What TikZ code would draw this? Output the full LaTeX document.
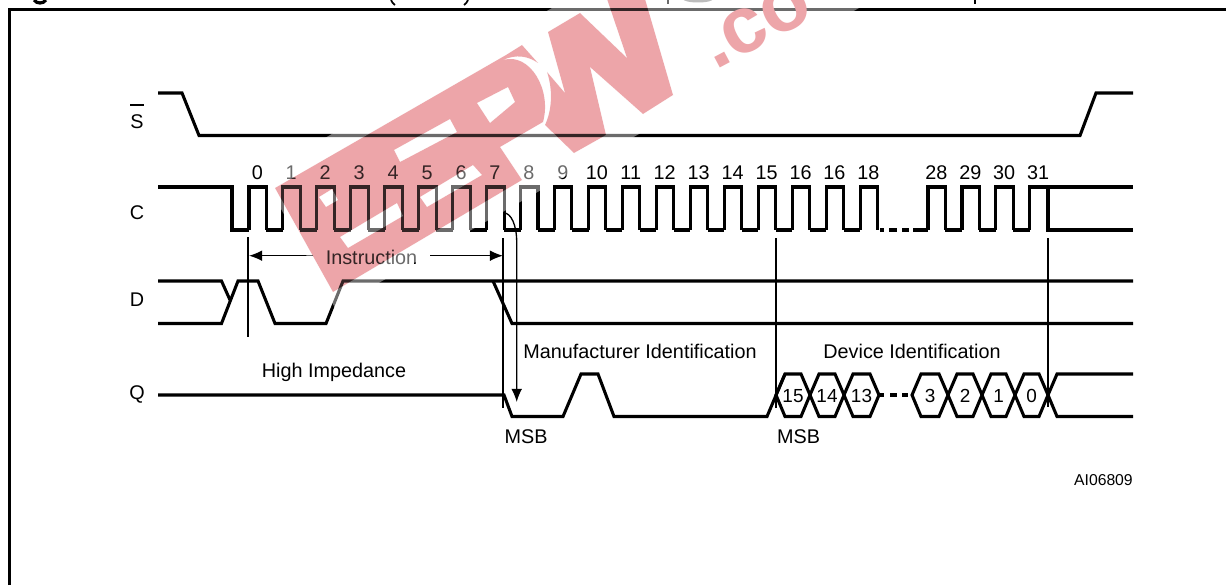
\documentclass[tikz,border=0pt]{standalone}
\usepackage{fontspec}
\setmainfont{Liberation Sans}
\usetikzlibrary{arrows.meta}
\definecolor{wmpink}{HTML}{EDA5A9}
\tikzset{
  x=0.75pt,y=-0.75pt,
  sig/.style={line width=2.3pt,line join=miter,line cap=butt},
  thinline/.style={line width=1pt},
  hair/.style={line width=.9pt},
  lab/.style={inner sep=0pt,font=\fontsize{14.85}{16}\selectfont},
  hexlab/.style={inner sep=0pt,font=\fontsize{14.2}{16}\selectfont},
  smalllab/.style={inner sep=0pt,font=\fontsize{11.8}{14}\selectfont},
  tip/.style={-{Latex[length=9.8pt,width=8pt]}},
  wmshape/.style={insert path={
    (275,188) -- (506,55) -- (522,45) -- (538,63) .. controls (528,56) and (516,54) .. (503,60)
      .. controls (530,52) and (552,90) .. (543,122) -- (500,147) -- (522,180) -- (333,292) -- cycle
    (548,32) -- (580,13) -- (627,58) -- (607,-1) -- (645,-1) -- (673,95) -- (643,114) -- (590,67) -- (606,135)
      -- (574,153) -- (545,125) .. controls (552,110) and (553,90) .. (547,72) -- (565,93) -- cycle
    (319,197) -- (332,189) -- (338,200) -- (326,207) -- cycle
    (340,237) -- (397,203) -- (403,216) -- (348,248) -- cycle
    (420,197) -- (473,165) -- (482,175) -- (427,207) -- cycle
    (394,150) -- (450,119) -- (457,132) -- (400,162) -- cycle
    (477,103) -- (508,87) -- (515,102) -- (490,123) -- cycle
  }}
}
\begin{document}
\begin{tikzpicture}
\useasboundingbox (0,0) rectangle (1226,585);
\clip (0,0) rectangle (1226,585);
\fill[white] (0,0) rectangle (1226,585);
% watermark under the drawing
\fill[wmpink,even odd rule,wmshape];
% frame and cut-off heading fragments
\draw[line width=1.9pt] (9.5,585) -- (9.5,9.5) -- (1226,9.5);
\draw[line width=2.4pt] (34,0) .. controls (37,4) and (43,4) .. (46,0);
\draw[line width=1.3pt] (391,0) .. controls (392,2) and (393,4) .. (395,5);
\draw[line width=1.3pt] (468,0) .. controls (467,2) and (466,4) .. (464,5);
\draw[line width=2.2pt] (668,0) -- (668,4);
\draw[line width=2.2pt] (975,0) -- (975,4);
\fill[black!45] (698,-1) ellipse [x radius=15,y radius=3.5];
% S
\node[lab] (S) at (137,122) {S};
\coordinate (Sbar) at (130,105); \coordinate (Sbarr) at (144,105);
\draw[hair] (Sbar) -- (Sbarr);
\draw[sig] (158,93) -- (182,93) -- (199,135.5) -- (1080,135.5) -- (1096,93) -- (1133,93);
% C
\node[lab] (C) at (137,213) {C};
\draw[sig] (158,187) -- (232,187) -- (232,230) -- (249,230);
\foreach \k/\t in {0/0,1/1,2/2,3/3,4/4,5/5,6/6,7/7,8/8,9/9,10/10,11/11,12/12,13/13,14/14,15/15,16/16,17/16,18/18,20/28,21/29,22/30,23/31}{
  \pgfmathsetmacro{\r}{249+33.95*\k}
  \pgfmathsetmacro{\f}{\r+17.4}
  \pgfmathsetmacro{\e}{\r+33.95}
  \node[lab] (clk\k) at (\r+8.3,173) {\t};
  \draw[sig,line cap=square] (\r,230) -- (\r,187) -- (\f,187) -- (\f,230);
  \ifnum\k<18 \draw[sig] (\f,230) -- (\e,230); \fi
  \ifnum\k>19 \ifnum\k<23 \draw[sig] (\f,230) -- (\e,230); \fi\fi
}
\draw[sig] (880,230) -- (884,230) (889,230) -- (897,230) (902,230) -- (909,230) (913,230) -- (928,230);
\draw[sig] (1030,187) -- (1133,187);
\draw[sig] (1048,187) -- (1048,230) -- (1133,230);
% D
\node[lab] (D) at (137,300) {D};
\draw[sig] (158,281) -- (221.5,281) -- (230,300);
\draw[sig] (158,323.5) -- (221.5,323.5) -- (238,281) -- (258,281) -- (275,323.5) -- (326,323.5) -- (343,281) -- (1133,281);
\draw[sig] (493,281) -- (512,323.5) -- (1133,323.5);
% Q
\node[lab] (Q) at (137,394) {Q};
\draw[sig] (158,395) -- (504,395) -- (512,416.5) -- (563,416.5) -- (581,374) -- (598,374) -- (614,416.5) -- (767,416.5) -- (785,374);
\foreach \a/\b/\t/\n in {776/810/15/a,810/844/14/b,844/879/13/c,912/948/3/d,948/982/2/e,982/1015/1/f,1015/1048/0/g}{
  \draw[sig] (\a,395) -- (\a+9,374) -- (\b-9,374) -- (\b,395) -- (\b-9,416.5) -- (\a+9,416.5) -- cycle;
  \node[hexlab] (hex\n) at ({(\a+\b)/2},396) {\t};
}
\draw[sig] (880,395) -- (884,395) (890,395) -- (897,395) (902,395) -- (908,395);
\draw[sig] (1133,374) -- (1057,374) -- (1048,395) -- (1057,416.5) -- (1133,416.5);
% guide lines
\coordinate (g0a) at (248,237); \coordinate (g0b) at (248,337);
\coordinate (g7a) at (503,238); \coordinate (g7b) at (503,408);
\coordinate (g15a) at (776,238); \coordinate (g15b) at (776,408);
\coordinate (g31a) at (1048,238); \coordinate (g31b) at (1048,407);
\draw[thinline] (g0a) -- (g0b);
\draw[thinline] (g7a) -- (g7b);
\draw[thinline] (g15a) -- (g15b);
\draw[thinline] (g31a) -- (g31b);
% Instruction
\node[lab] (instr) at (371.5,257) {Instruction};
\coordinate (il) at (249,255.7); \coordinate (ir) at (503,255.7);
\coordinate (ils) at (313,255.7); \coordinate (irs) at (430,255.7);
\draw[thinline,tip] (ils) -- (il);
\draw[thinline,tip] (irs) -- (ir);
% curved arrow
\coordinate (cs) at (504,213); \coordinate (ce) at (516.7,402);
\draw[thinline,tip] (cs) .. controls (511,213) and (516.7,225) .. (516.7,242) -- (ce);
% labels
\node[lab] (hi) at (334,372) {High Impedance};
\node[lab] (mf) at (640,351) {Manufacturer Identification};
\node[lab] (dv) at (912,351) {Device Identification};
\node[lab] (m1) at (526,437) {MSB};
\node[lab] (m2) at (798.5,437) {MSB};
\node[smalllab,anchor=east] (ai) at (1133,480) {AI06809};
% washed-out band around the watermark, and the tint over it
\fill[white,opacity=.42,even odd rule] (262,174) -- (566,0) -- (873,0) -- (335,308) -- cycle [wmshape];
\fill[wmpink,opacity=.22,even odd rule,wmshape];
\node[inner sep=0pt,outer sep=0pt,anchor=base west,rotate=28,text=wmpink,font=\bfseries\fontsize{60}{60}\selectfont] (wm) at (715,70.5) {.co};
\end{tikzpicture}
\end{document}
